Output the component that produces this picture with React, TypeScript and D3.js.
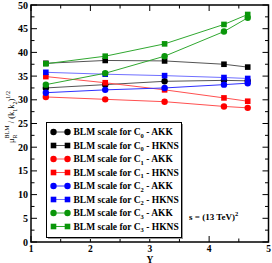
import React from "react";
import * as d3 from "d3";

const xs = [1.25, 2.25, 3.25, 4.25, 4.65];
const c0AKK = [32.5, 33.2, 33.9, 34.1, 34.0];
const c0HKNS = [37.7, 38.3, 38.2, 37.5, 36.9];
const c1AKK = [30.6, 30.1, 29.6, 28.6, 28.3];
const c1HKNS = [34.9, 33.6, 32.1, 30.4, 29.7];
const c2AKK = [31.5, 32.1, 32.5, 33.2, 33.5];
const c2HKNS = [35.8, 35.4, 35.1, 34.7, 34.5];
const c3AKK = [33.2, 35.6, 39.2, 44.4, 47.3];
const c3HKNS = [37.6, 39.2, 41.8, 45.9, 48.0];

const xTicks = [1, 2, 3, 4, 5];
const yTicks = [0, 5, 10, 15, 20, 25, 30, 35, 40, 45, 50];

const seriesList = [
  { name: "0", pdf: "AKK", shape: "circle", color: "#000000", line: "#555555", values: c0AKK },
  { name: "0", pdf: "HKNS", shape: "square", color: "#000000", line: "#555555", values: c0HKNS },
  { name: "1", pdf: "AKK", shape: "circle", color: "#ff0000", line: "#ff5050", values: c1AKK },
  { name: "1", pdf: "HKNS", shape: "square", color: "#ff0000", line: "#ff5050", values: c1HKNS },
  { name: "2", pdf: "AKK", shape: "circle", color: "#0000ff", line: "#3030ff", values: c2AKK },
  { name: "2", pdf: "HKNS", shape: "square", color: "#0000ff", line: "#7070ff", values: c2HKNS },
  { name: "3", pdf: "AKK", shape: "circle", color: "#0a960a", line: "#30a830", values: c3AKK },
  { name: "3", pdf: "HKNS", shape: "square", color: "#0a960a", line: "#30a830", values: c3HKNS },
];

const FONT = "'Liberation Serif', 'DejaVu Serif', serif";

function Marker({ shape, x, y, color, r = 3.2, s = 5.6 }: any) {
  if (shape === "circle") return <circle cx={x} cy={y} r={r} fill={color} />;
  return <rect x={x - s / 2} y={y - s / 2} width={s} height={s} fill={color} />;
}

export default function App() {
  const x = d3.scaleLinear().domain([1, 5]).range([31, 268.5]);
  const y = d3.scaleLinear().domain([0, 50]).range([242, 5]);
  const line = d3
    .line<number>()
    .x((_, i) => x(xs[i]))
    .y((d) => y(d));

  const xMinor = d3.range(1.5, 5, 1);
  const yMinor = d3.range(2.5, 50, 5);
  const [x0, x1] = x.range();
  const [y0, y1] = y.range();

  const legX = 46.5, legY = 122.5, legW = 135, legH = 115;
  const rowY0 = 132, rowStep = 13.5;

  return (
    <svg width={272} height={263} style={{ position: "absolute", left: 0, top: 0, background: "#fff" }}
      fontFamily={FONT}>
      <rect x={0} y={0} width={272} height={263} fill="#fff" />
      {/* series */}
      {seriesList.map((s, k) => (
        <g key={k}>
          <path d={line(s.values) || ""} fill="none" stroke={s.line} strokeWidth={1} />
          {s.values.map((v, i) => (
            <Marker key={i} shape={s.shape} x={x(xs[i])} y={y(v)} color={s.color} />
          ))}
        </g>
      ))}

      {/* frame */}
      <rect x={x0} y={y1} width={x1 - x0} height={y0 - y1} fill="none" stroke="#000" strokeWidth={1.5} />
      {/* ticks */}
      {xTicks.map((t) => (
        <g key={"xt" + t}>
          <line x1={x(t)} x2={x(t)} y1={y0} y2={y0 - 6} stroke="#000" strokeWidth={1} />
          <line x1={x(t)} x2={x(t)} y1={y1} y2={y1 + 6} stroke="#000" strokeWidth={1} />
          <text x={x(t)} y={252} textAnchor="middle" fontSize={9.5} fontWeight="bold">{t}</text>
        </g>
      ))}
      {xMinor.map((t) => (
        <g key={"xm" + t}>
          <line x1={x(t)} x2={x(t)} y1={y0} y2={y0 - 3.5} stroke="#000" strokeWidth={1} />
          <line x1={x(t)} x2={x(t)} y1={y1} y2={y1 + 3.5} stroke="#000" strokeWidth={1} />
        </g>
      ))}
      {yTicks.map((t) => (
        <g key={"yt" + t}>
          <line x1={x0} x2={x0 + 6} y1={y(t)} y2={y(t)} stroke="#000" strokeWidth={1} />
          <line x1={x1} x2={x1 - 6} y1={y(t)} y2={y(t)} stroke="#000" strokeWidth={1} />
          <text x={28} y={y(t) + 3.5} textAnchor="end" fontSize={10} fontWeight="bold">{t}</text>
        </g>
      ))}
      {yMinor.map((t) => (
        <g key={"ym" + t}>
          <line x1={x0} x2={x0 + 3.5} y1={y(t)} y2={y(t)} stroke="#000" strokeWidth={1} />
          <line x1={x1} x2={x1 - 3.5} y1={y(t)} y2={y(t)} stroke="#000" strokeWidth={1} />
        </g>
      ))}

      {/* axis labels */}
      <text x={150} y={262.5} textAnchor="middle" fontSize={9.5} fontWeight="bold">Y</text>
      <text transform="translate(14,117) rotate(-90)" textAnchor="middle" fontSize={8.5}>
        <tspan>μ</tspan>
        <tspan fontSize={6} dy={2.5}>R</tspan>
        <tspan fontSize={6} dx={-4} dy={-7.5}>BLM</tspan>
        <tspan dy={5}> / (k</tspan>
        <tspan fontSize={6} dy={2.5}>1</tspan>
        <tspan dy={-2.5}>k</tspan>
        <tspan fontSize={6} dy={2.5}>2</tspan>
        <tspan dy={-2.5}>)</tspan>
        <tspan fontSize={6} dy={-4.5}>1/2</tspan>
      </text>

      {/* legend */}
      <rect x={legX + 1.5} y={legY + 1.5} width={legW} height={legH} fill="#999" />
      <rect x={legX} y={legY} width={legW} height={legH} fill="#fff" stroke="#000" strokeWidth={1} />
      {seriesList.map((s, k) => {
        const ry = rowY0 + k * rowStep;
        return (
          <g key={"lg" + k}>
            <line x1={53.5} x2={67.5} y1={ry} y2={ry} stroke={s.line} strokeWidth={1} />
            <Marker shape={s.shape} x={53.5} y={ry} color={s.color} />
            <Marker shape={s.shape} x={67.5} y={ry} color={s.color} />
            <text x={73.5} y={ry + 3.3} fontSize={9.5} fontWeight="bold">
              <tspan>BLM scale for C</tspan>
              <tspan fontSize={6.5} dy={2.5}>{s.name}</tspan>
              <tspan dy={-2.5}>{" - " + s.pdf}</tspan>
            </text>
          </g>
        );
      })}

      <text x={189} y={220} fontSize={9} fontWeight="bold">
        <tspan>s = (13 TeV)</tspan>
        <tspan fontSize={6.5} dy={-4.5}>2</tspan>
      </text>
    </svg>
  );
}
